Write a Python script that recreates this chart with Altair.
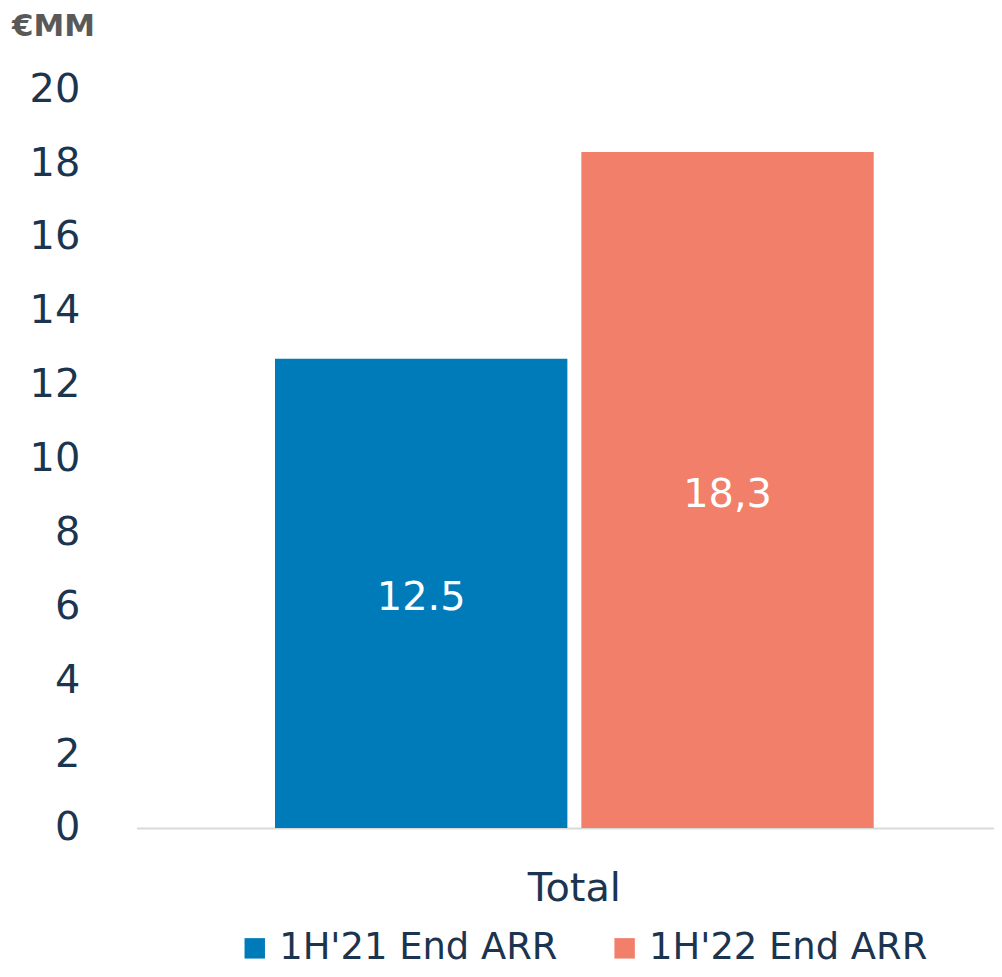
import altair as alt
import pandas as pd

categories = ["Total", "Total"]
series = ["1H'21 End ARR", "1H'22 End ARR"]
values = [12.7, 18.3]
value_labels = ["12.5", "18,3"]
colors = ["#007BBA", "#F17F69"]
unit_title = "€MM"

df = pd.DataFrame({
    "cat": categories,
    "series": series,
    "value": values,
    "label": value_labels,
})
df["mid"] = df["value"] / 2

FONT = "DejaVu Sans"
TXT = "#1B3550"
FS = 40

base = alt.Chart(df).encode(
    x=alt.X("cat:N", title=None,
            scale=alt.Scale(paddingInner=0, paddingOuter=0.216, align=0.535),
            axis=alt.Axis(labelFontSize=FS, labelColor=TXT, labelFont=FONT,
                          labelAngle=0, ticks=False, domainColor="#D9D9D9",
                          domainWidth=2, labelPadding=41)),
    xOffset=alt.XOffset("series:N", scale=alt.Scale(paddingInner=0.0456, paddingOuter=0)),
)

bars = base.mark_bar().encode(
    y=alt.Y("value:Q", title=None,
            scale=alt.Scale(domain=[0, 20]),
            axis=alt.Axis(values=list(range(0, 21, 2)), grid=False, domain=False,
                          ticks=False, labelFontSize=FS, labelColor=TXT,
                          labelFont=FONT, labelPadding=57)),
    color=alt.Color("series:N", scale=alt.Scale(domain=series, range=colors),
                    legend=alt.Legend(title=None, orient="none", direction="horizontal",
                                      legendX=100, legendY=843,
                                      symbolType="square", symbolSize=420,
                                      symbolStrokeWidth=0, symbolOpacity=1,
                                      labelFontSize=37, labelColor=TXT,
                                      labelFont=FONT,
                                      labelOffset=6, columnPadding=48, labelLimit=400)),
)

texts = base.mark_text(color="white", fontSize=FS, font=FONT, baseline="middle", dy=5).encode(
    y=alt.Y("mid:Q"),
    text="label:N",
)

title_df = pd.DataFrame({"t": [unit_title]})
title = alt.Chart(title_df).mark_text(
    align="left", baseline="alphabetic", fontSize=31, fontWeight="bold",
    color="#595959", font=FONT,
).encode(x=alt.value(-125), y=alt.value(-53), text="t:N")

chart = alt.layer(bars, texts, title).properties(
    width=860,
    height=741,
    background="white",
    autosize=alt.AutoSizeParams(type="none"),
    padding={"left": 129, "top": 80, "right": 0, "bottom": 140},
).configure_view(stroke=None, strokeWidth=0)

chart.save("out.html", embed_options={"renderer": "svg", "actions": False})
